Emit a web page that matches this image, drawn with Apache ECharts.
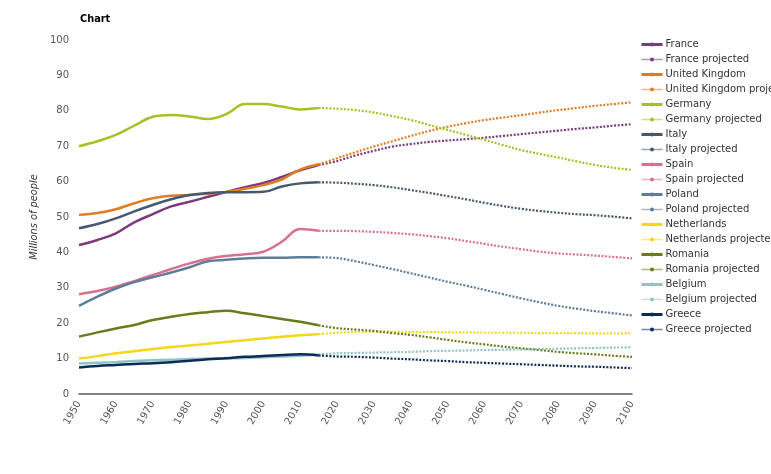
<!DOCTYPE html>
<html><head><meta charset="utf-8">
<script src="https://cdn.jsdelivr.net/npm/echarts@6/dist/echarts.min.js"></script>
<style>html,body{margin:0;padding:0;background:#fff}#c{width:771px;height:474px}</style>
</head><body><div id="c"></div>
<script>
const histYears = [1950,1955,1960,1965,1970,1975,1980,1985,1990,1995,2000,2005,2010,2015];
const projYears = [2015,2020,2025,2030,2035,2040,2045,2050,2055,2060,2065,2070,2075,2080,2085,2090,2095,2100];
const xTicks = [1950,1960,1970,1980,1990,2000,2010,2020,2030,2040,2050,2060,2070,2080,2090,2100];

const franceHist = [42.1,43.5,45.4,48.5,50.8,53.0,54.3,55.7,57.1,58.4,59.6,61.3,63.2,64.7];
const franceProj = [64.7,65.8,67.4,68.7,69.9,70.6,71.2,71.6,72.0,72.4,72.9,73.4,73.9,74.4,74.9,75.3,75.8,76.2];
const ukHist = [50.6,51.1,52.2,53.9,55.3,56.0,56.2,56.6,57.1,58.0,59.0,60.6,63.4,64.9];
const ukProj = [64.9,66.6,68.3,69.9,71.4,72.9,74.3,75.5,76.5,77.4,78.1,78.8,79.5,80.2,80.8,81.4,81.9,82.4];
const germanyHist = [70.0,71.4,73.2,75.8,78.3,78.8,78.4,77.7,79.1,81.9,81.9,81.2,80.4,80.8];
const germanyProj = [80.8,80.6,80.2,79.5,78.5,77.4,76.0,74.6,73.2,71.8,70.3,68.9,67.8,66.8,65.7,64.7,63.9,63.3];
const italyHist = [46.8,48.0,49.6,51.6,53.4,55.0,56.2,56.8,57.0,57.0,57.1,58.6,59.5,59.8];
const italyProj = [59.8,59.7,59.4,59.0,58.4,57.6,56.8,55.9,55.0,54.0,53.1,52.3,51.7,51.2,50.8,50.5,50.1,49.6];
const spainHist = [28.2,29.1,30.3,31.9,33.6,35.3,36.9,38.2,39.0,39.5,40.2,43.0,46.6,46.1];
const spainProj = [46.1,46.1,46.0,45.8,45.5,45.1,44.6,44.0,43.2,42.4,41.6,40.9,40.2,39.7,39.4,39.1,38.7,38.3];
const polandHist = [24.9,27.5,29.8,31.6,33.0,34.3,35.8,37.5,37.9,38.3,38.5,38.5,38.6,38.6];
const polandProj = [38.6,38.4,37.5,36.4,35.3,34.1,32.9,31.7,30.6,29.4,28.2,27.0,25.9,24.9,24.1,23.4,22.8,22.2];
const netherlandsHist = [10.0,10.7,11.5,12.1,12.7,13.3,13.7,14.2,14.7,15.2,15.7,16.2,16.6,16.9];
const netherlandsProj = [16.9,17.3,17.5,17.6,17.6,17.5,17.5,17.4,17.4,17.3,17.3,17.3,17.2,17.2,17.2,17.1,17.1,17.1];
const romaniaHist = [16.2,17.4,18.5,19.5,20.9,21.8,22.6,23.1,23.5,22.8,22.0,21.2,20.4,19.4];
const romaniaProj = [19.4,18.6,18.2,17.8,17.2,16.7,16.0,15.3,14.6,14.0,13.4,12.9,12.4,11.9,11.5,11.2,10.8,10.5];
const belgiumHist = [8.6,8.8,9.0,9.3,9.5,9.7,9.9,10.0,10.1,10.2,10.4,10.6,10.8,11.1];
const belgiumProj = [11.1,11.5,11.6,11.7,11.8,11.9,12.1,12.2,12.3,12.4,12.5,12.6,12.7,12.8,12.9,13.0,13.1,13.2];
const greeceHist = [7.5,7.9,8.2,8.5,8.7,9.0,9.4,9.8,10.1,10.5,10.7,11.0,11.2,10.9];
const greeceProj = [10.9,10.6,10.5,10.3,10.0,9.8,9.5,9.3,9.0,8.8,8.6,8.4,8.2,8.0,7.8,7.7,7.5,7.3];

const countries = [
  ['France', '#7b3b7c', franceHist, franceProj],
  ['United Kingdom', '#e07d23', ukHist, ukProj],
  ['Germany', '#a9c024', germanyHist, germanyProj],
  ['Italy', '#47596c', italyHist, italyProj],
  ['Spain', '#d8718f', spainHist, spainProj],
  ['Poland', '#5f7c98', polandHist, polandProj],
  ['Netherlands', '#f2d71a', netherlandsHist, netherlandsProj],
  ['Romania', '#6b7a1e', romaniaHist, romaniaProj],
  ['Belgium', '#8fc4c5', belgiumHist, belgiumProj],
  ['Greece', '#0d2b59', greeceHist, greeceProj]
];

const series = [];
const legendData = [];
countries.forEach(([name, color, hist, proj]) => {
  series.push({
    name: name, type: 'line', smooth: 0.4, symbol: 'none',
    data: histYears.map((y, i) => [y, hist[i]]),
    lineStyle: { color: color, width: 2.5 }, itemStyle: { color: color },
    emphasis: { disabled: true }
  });
  series.push({
    name: name + ' projected', type: 'line', smooth: 0.4,
    symbol: 'circle', symbolSize: 2, showSymbol: false,
    data: projYears.map((y, i) => [y, proj[i]]),
    lineStyle: { color: color, width: 2.2, type: [2, 1.6] }, itemStyle: { color: color },
    emphasis: { disabled: true }
  });
  legendData.push({ name: name, lineStyle: { width: 3 } });
  legendData.push({ name: name + ' projected', lineStyle: { type: 'solid', width: 1.5, opacity: 0.55 } });
});

const chart = echarts.init(document.getElementById('c'), null, { renderer: 'canvas' });
chart.setOption({
  animation: false,
  backgroundColor: '#ffffff',
  title: { text: 'Chart', left: 75, top: 9, textStyle: { fontFamily: 'DejaVu Sans', fontSize: 9.8, fontWeight: 'bold', color: '#000' } },
  legend: {
    orient: 'vertical', left: 635, top: 34, itemWidth: 21, itemHeight: 5, itemGap: 4,
    data: legendData,
    textStyle: { fontFamily: 'DejaVu Sans', fontSize: 10, color: '#333', lineHeight: 11, padding: [0, 0, 0, -2] },
    selectedMode: false
  },
  grid: { left: 79, right: 139, top: 40, bottom: 80, containLabel: false },
  xAxis: {
    type: 'value', min: 1950, max: 2100, interval: 10,
    axisLine: { show: true, lineStyle: { color: '#555', width: 1.5 } },
    axisTick: { show: false }, splitLine: { show: false },
    axisLabel: { rotate: 60, color: '#555', fontFamily: 'DejaVu Sans', fontSize: 10, margin: 8,
      formatter: v => xTicks.includes(v) ? String(v) : '' }
  },
  yAxis: {
    type: 'value', min: 0, max: 100, interval: 10,
    name: 'Millions of people', nameLocation: 'middle', nameGap: 39, nameRotate: 90,
    nameTextStyle: { fontFamily: 'DejaVu Sans', fontSize: 9.8, fontStyle: 'italic', color: '#333' },
    axisLine: { show: false }, axisTick: { show: false }, splitLine: { show: false },
    axisLabel: { color: '#555', fontFamily: 'DejaVu Sans', fontSize: 10, margin: 10 }
  },
  series: series
});
</script></body></html>
